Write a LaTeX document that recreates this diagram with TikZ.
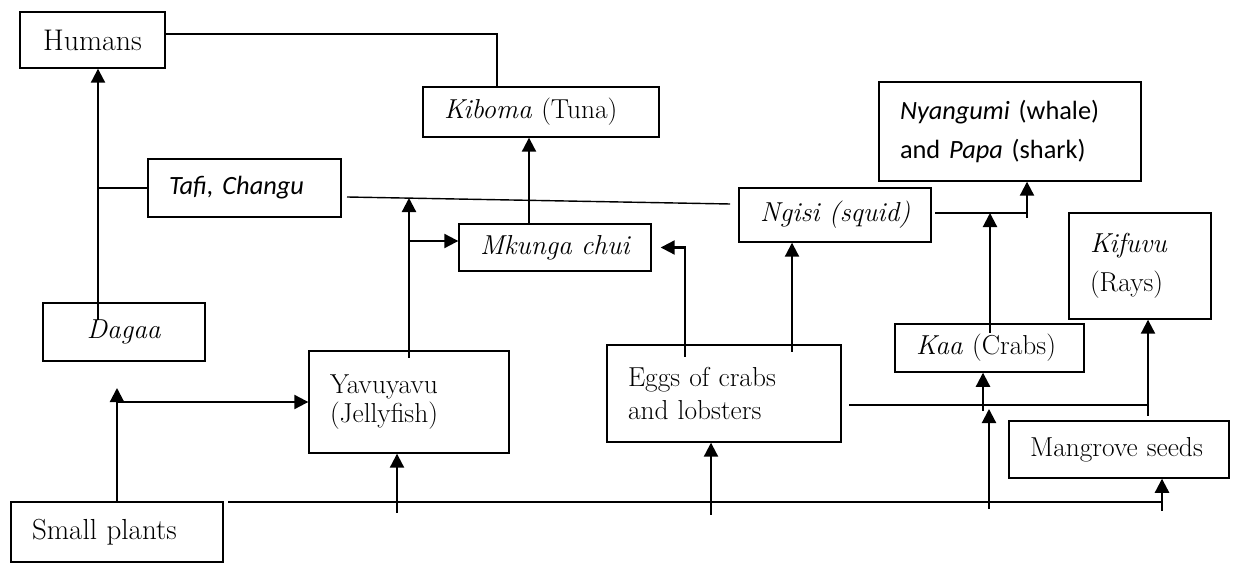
\documentclass[tikz,border=0pt]{standalone}
\usepackage{fontspec}
\newfontfamily\sansfont{Carlito}
\usetikzlibrary{arrows.meta,positioning}

\tikzset{
    box/.style={draw, line width=0.8pt, inner xsep=0.42cm, inner ysep=2pt, align=left,
        font=\fontsize{15.6}{18}\selectfont},
    sbox/.style={box, font=\sansfont\fontsize{15}{22}\selectfont},
    arr/.style={-{Triangle[length=8pt,width=8pt]}, line width=1.2pt},
    plain/.style={line width=0.8pt},
}

\begin{document}
\begin{tikzpicture}[x=0.02cm, y=-0.02cm]
    \useasboundingbox (0,0) rectangle (1237,563);

    % Boxes
    \node[box, align=center, inner xsep=0pt, minimum width=2.9cm, minimum height=1.12cm, font=\fontsize{17}{19}\selectfont] (humans) at (92.5,40) {Humans};
    \node[box, text width=3.88cm, minimum height=1.0cm] (kiboma) at (541,112) {\mbox{\textit{Kiboma} (Tuna)}};
    \node[sbox, text width=3.02cm, minimum height=1.16cm] (tafi) at (244.5,188) {\mbox{\itshape Tafi, Changu}};
    \node[sbox, text width=4.4cm, minimum height=1.98cm] (nyangumi) at (1010,131.5) {\textit{Nyangumi} (whale)\\and \textit{Papa} (shark)};
    \node[box, text width=3.0cm, minimum height=1.08cm] (ngisi) at (835,215) {\mbox{\textit{Ngisi (squid)}}};
    \node[box, text width=3.0cm, minimum height=0.94cm] (mkunga) at (555,247.5) {\mbox{\textit{Mkunga chui}}};
    \node[box, text width=2.0cm, minimum height=2.12cm, font=\fontsize{15.6}{22}\selectfont] (kifuvu) at (1140,266) {\textit{Kifuvu}\\(Rays)};
    \node[box, align=center, inner xsep=0pt, minimum width=3.24cm, minimum height=1.16cm] (dagaa) at (124,332) {\textit{Dagaa}};
    \node[box, text width=2.94cm, minimum height=0.96cm] (kaa) at (989.5,348) {\mbox{\textit{Kaa} (Crabs)}};
    \node[box, text width=3.16cm, minimum height=2.04cm, font=\fontsize{15.6}{16.5}\selectfont] (yavu) at (409,402) {Yavuyavu\\(Jellyfish)};
    \node[box, text width=3.84cm, minimum height=1.94cm, font=\fontsize{15.6}{19}\selectfont] (eggs) at (724,393.5) {Eggs of crabs\\and lobsters};
    \node[box, text width=3.56cm, minimum height=1.14cm] (mangrove) at (1119,449.5) {\mbox{Mangrove seeds}};
    \node[box, text width=3.4cm, minimum height=1.2cm, font=\fontsize{16.5}{18}\selectfont] (small) at (117,532) {\mbox{Small plants}};

    % Humans and the fish that feed them
    \coordinate (hk) at (497,34);
    \draw[plain] (humans.east |- hk) -- (hk) -- (hk |- kiboma.north);
    \coordinate (dh) at (98,320);
    \draw[arr] (dh) -- (dh |- humans.south);
    \draw[plain] (dh |- tafi.west) -- (tafi.west);
    \coordinate (tn1) at (347,197);
    \coordinate (tn2) at (730,204);
    \draw[plain] (tn1) -- (tn2);

    % Jellyfish and eels
    \coordinate (yv) at (409,358);
    \coordinate (yt) at (409,198);
    \draw[arr] (yv) -- (yt);
    \coordinate (ym) at (409,241);
    \draw[arr] (ym) -- (ym -| mkunga.west);
    \coordinate (mk) at (529,224);
    \draw[arr] (mk) -- (mk |- kiboma.south);

    % Eggs upwards
    \coordinate (em) at (685,357);
    \draw[arr] (em) -- (em |- mkunga.east) -- ([xshift=0.18cm]mkunga.east);
    \coordinate (en) at (792,352);
    \draw[arr] (en) -- (en |- ngisi.south);
    \coordinate (ek1) at (849,405);
    \coordinate (ek2) at (1148,405);
    \draw[plain] (ek1) -- (ek2);
    \draw[arr] ([yshift=-0.22cm]ek2) -- (ek2 |- kifuvu.south);

    % Squid and crabs to whale and shark
    \coordinate (ns) at (935,213);
    \coordinate (nn) at (1027,213);
    \draw[plain] (ns) -- (nn);
    \draw[arr] ([yshift=-0.1cm]nn) -- (nn |- nyangumi.south);
    \coordinate (kn) at (990,333);
    \draw[arr] (kn) -- (kn |- nn);

    % Small plants
    \coordinate (st) at (117,388);
    \draw[arr] (small.north) -- (st);
    \draw[arr] (small.north |- yavu.west) -- (yavu.west);
    \coordinate (b0) at (228,502);
    \coordinate (b4) at (1162,502);
    \draw[plain] (b0) -- (b4);
    \coordinate (b1) at (397,513);
    \draw[arr] (b1) -- (b1 |- yavu.south);
    \coordinate (b2) at (711,515);
    \draw[arr] (b2) -- (b2 |- eggs.south);
    \coordinate (b3) at (989,509);
    \coordinate (b3t) at (989,409);
    \draw[arr] (b3) -- (b3t);
    \coordinate (kb) at (983,411);
    \draw[arr] (kb) -- (kb |- kaa.south);
    \draw[arr] ([yshift=-0.18cm]b4) -- (b4 |- mangrove.south);
\end{tikzpicture}
\end{document}
